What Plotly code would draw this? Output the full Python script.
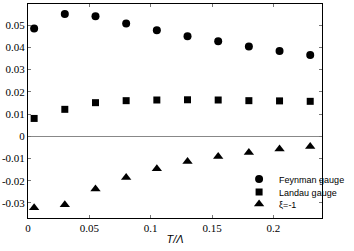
import plotly.graph_objects as go

T = [0.005, 0.03, 0.055, 0.08, 0.105, 0.13, 0.155, 0.18, 0.205, 0.23]
feynman = [0.0485, 0.0550, 0.0540, 0.0507, 0.0477, 0.0450, 0.0427, 0.0404, 0.0384, 0.0365]
landau = [0.0080, 0.0121, 0.0151, 0.0160, 0.0163, 0.0164, 0.0163, 0.0160, 0.0159, 0.0157]
xi_m1 = [-0.0322, -0.0308, -0.0238, -0.0186, -0.0146, -0.0114, -0.0091, -0.0073, -0.0058, -0.0046]

xticks = [0, 0.05, 0.1, 0.15, 0.2]
xlabels = ["0", "0.05", "0.1", "0.15", "0.2"]
yticks = [-0.03, -0.02, -0.01, 0, 0.01, 0.02, 0.03, 0.04, 0.05]
ylabels = ["-0.03", "-0.02", "-0.01", "0", "0.01", "0.02", "0.03", "0.04", "0.05"]

SERIF = "Liberation Serif, Times New Roman, serif"
SANS = "Liberation Sans, Arial, sans-serif"

fig = go.Figure()
fig.add_trace(go.Scatter(x=T, y=feynman, mode="markers", name="Feynman gauge", legend="legend",
                         marker=dict(symbol="circle", size=8, color="black")))
fig.add_trace(go.Scatter(x=T, y=landau, mode="markers", name="Landau gauge", legend="legend2",
                         marker=dict(symbol="square", size=7, color="black")))
fig.add_trace(go.Scatter(x=T, y=xi_m1, mode="markers", name="ξ=-1", legend="legend3",
                         marker=dict(symbol="triangle-up", size=9, color="black")))

axis_common = dict(showline=True, linecolor="black", linewidth=1, mirror="ticks",
                   ticks="inside", ticklen=3, tickcolor="#777", showgrid=False,
                   automargin=False,
                   tickfont=dict(family=SERIF, size=11, color="black"))

fig.update_xaxes(range=[0, 0.2396], tickvals=xticks, ticktext=xlabels, zeroline=False,
                 title=dict(text="<i>T/Λ</i>", standoff=2,
                            font=dict(family=SANS, size=11, color="black")),
                 **axis_common)
fig.update_yaxes(range=[-0.0368, 0.0595], tickvals=yticks, ticktext=ylabels,
                 zeroline=True, zerolinecolor="#888", zerolinewidth=1,
                 **axis_common)

leg_common = dict(xanchor="left", yanchor="middle", bgcolor="rgba(0,0,0,0)",
                  itemwidth=30, font=dict(family=SANS, size=9, color="black"))

fig.update_layout(
    width=354, height=251,
    margin=dict(l=28, r=5, t=4, b=33),
    plot_bgcolor="white", paper_bgcolor="white",
    font=dict(family=SERIF, size=11, color="black"),
    showlegend=True,
    legend=dict(x=0.718, y=0.182, **leg_common),
    legend2=dict(x=0.718, y=0.1215, **leg_common),
    legend3=dict(x=0.718, y=0.0654, **leg_common),
)

fig.write_html("out.html", config={"displayModeBar": False},
               post_script="document.body.style.margin='0';document.body.style.overflow='hidden';")
